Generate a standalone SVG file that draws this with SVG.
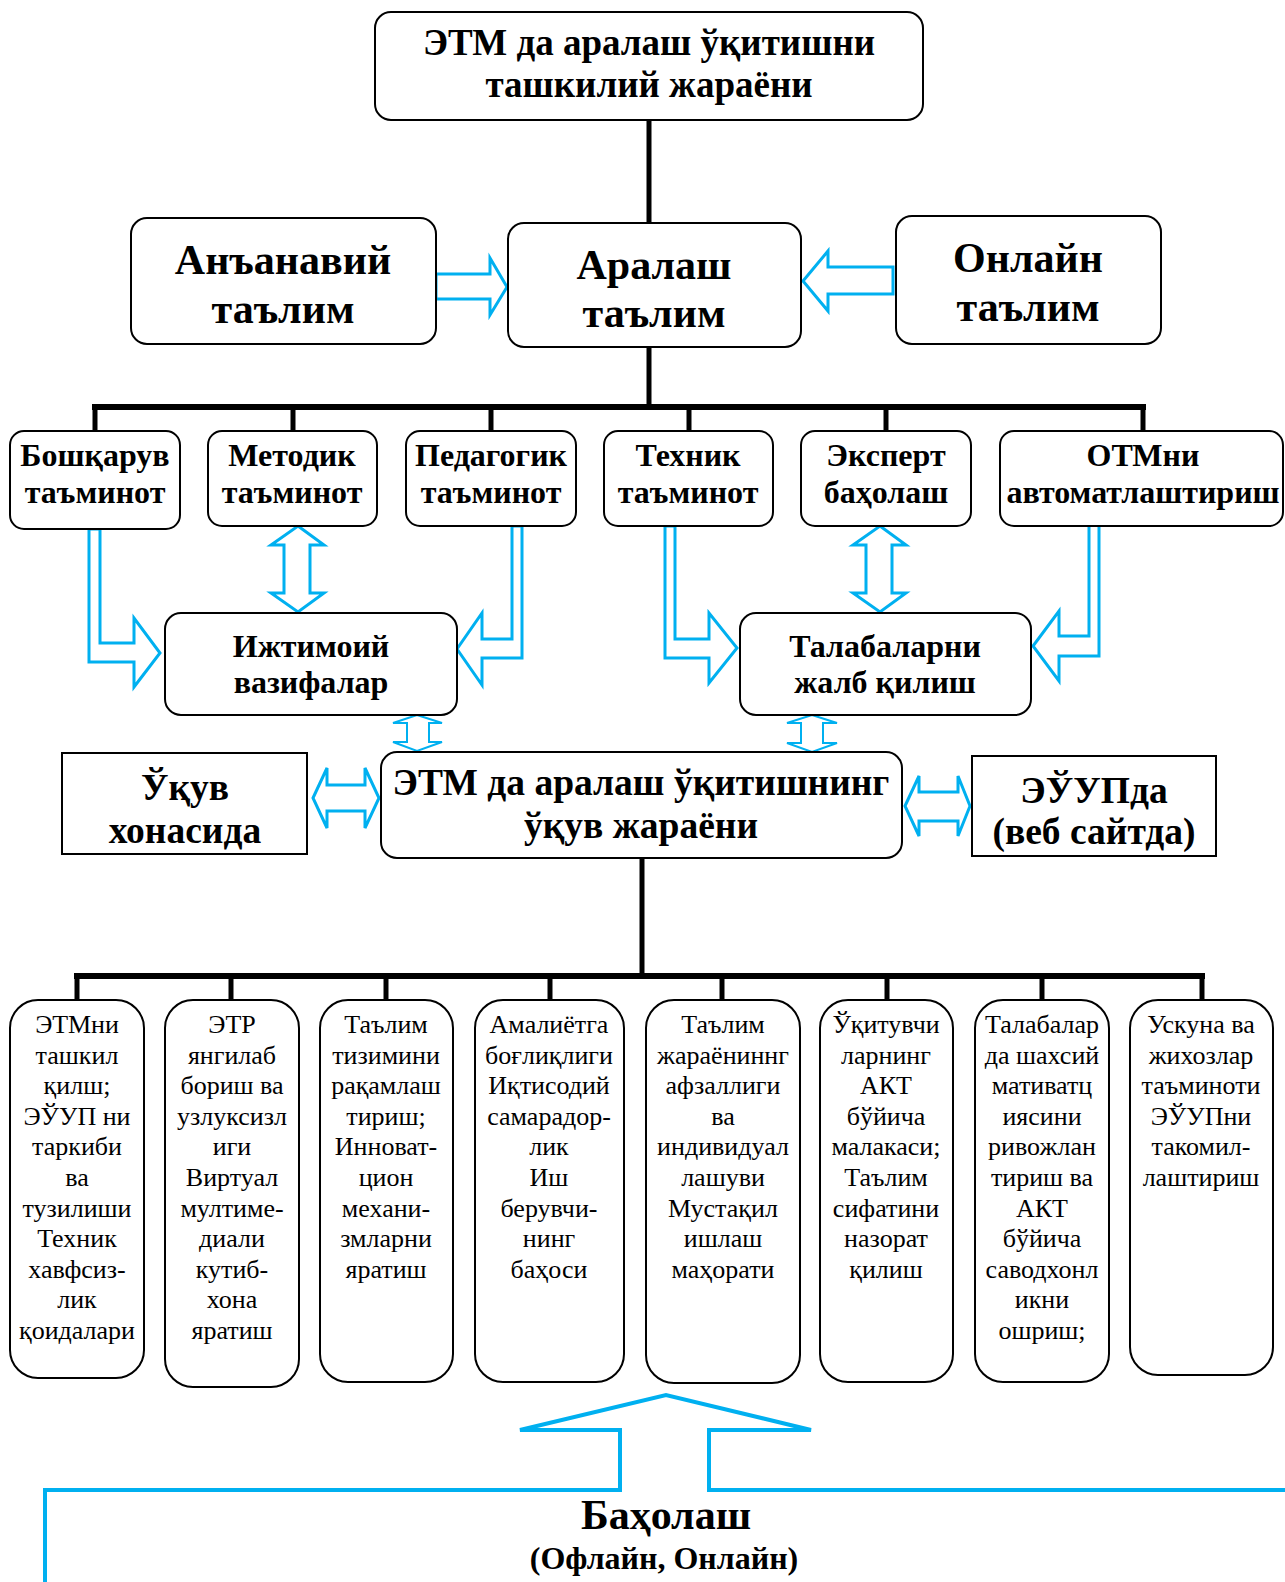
<svg xmlns="http://www.w3.org/2000/svg" width="1285" height="1582" viewBox="0 0 1285 1582">
<style>
.box{fill:#fff;stroke:#000;stroke-width:2}
.ln{stroke:#000;stroke-width:5;fill:none}
.bar{stroke:#000;stroke-width:6;fill:none}
.ar{fill:#fff;stroke:#00B0F0;stroke-width:3;stroke-linejoin:miter}
.ars{fill:#fff;stroke:#00B0F0;stroke-width:2}
text{font-family:"Liberation Serif","Times New Roman",serif;text-anchor:middle;fill:#000}
.b{font-weight:bold}
.t37{font-size:37px}
.t375{font-size:37.5px}
.t42{font-size:42px}
.t32{font-size:32px}
.r26{font-size:26px}
</style>
<rect width="1285" height="1582" fill="#fff"/>
<g id="connectors">
<line class="ln" x1="649" y1="120" x2="649" y2="223"/>
<line class="ln" x1="649" y1="347" x2="649" y2="407"/>
<line class="bar" x1="92" y1="407" x2="1146" y2="407"/>
<line class="ln" x1="95" y1="407" x2="95" y2="431"/>
<line class="ln" x1="293" y1="407" x2="293" y2="431"/>
<line class="ln" x1="491" y1="407" x2="491" y2="431"/>
<line class="ln" x1="689" y1="407" x2="689" y2="431"/>
<line class="ln" x1="886" y1="407" x2="886" y2="431"/>
<line class="ln" x1="1143" y1="407" x2="1143" y2="431"/>
<line class="ln" x1="642" y1="858" x2="642" y2="976"/>
<line class="bar" x1="74" y1="976" x2="1205" y2="976"/>
<line class="ln" x1="77" y1="976" x2="77" y2="1000"/>
<line class="ln" x1="231" y1="976" x2="231" y2="1000"/>
<line class="ln" x1="386" y1="976" x2="386" y2="1000"/>
<line class="ln" x1="550" y1="976" x2="550" y2="1000"/>
<line class="ln" x1="722" y1="976" x2="722" y2="1000"/>
<line class="ln" x1="887" y1="976" x2="887" y2="1000"/>
<line class="ln" x1="1042" y1="976" x2="1042" y2="1000"/>
<line class="ln" x1="1202" y1="976" x2="1202" y2="1000"/>
<polygon class="ar" points="436,274 490,274 490,258 507,287 490,315 490,299 436,299"/>
<polygon class="ar" points="893,267 828,267 828,251 803,281 828,311 828,294 893,294"/>
<polygon class="ar" points="89,529 100,529 100,643 134,643 134,618 160,653 134,687 134,662 89,662"/>
<polygon class="ar" points="512,526 522,526 522,658 482,658 482,685 457,649 482,613 482,639 512,639"/>
<polygon class="ar" points="665,526 675,526 675,639 709,639 709,613 737,648 709,683 709,658 665,658"/>
<polygon class="ar" points="1089,523 1099,523 1099,656 1059,656 1059,681 1033,646 1059,611 1059,636 1089,636"/>
<polygon class="ar" points="298,526 324,545 310,545 310,593 324,593 298,612 271,593 284,593 284,545 271,545"/>
<polygon class="ar" points="880,526 906,545 892,545 892,593 906,593 880,612 853,593 866,593 866,545 853,545"/>
<polygon class="ars" points="417,715 442,723 429,723 429,742 442,742 417,751 393,742 407,742 407,723 393,723"/>
<polygon class="ars" points="812,715 837,723 823,723 823,743 837,743 812,752 787,743 801,743 801,723 787,723"/>
<polygon class="ar" points="313,798 327,768 327,785 365,785 365,768 379,798 365,828 365,811 327,811 327,828"/>
<polygon class="ar" points="905,806 919,776 919,792 958,792 958,776 970,806 958,836 958,821 919,821 919,836"/>
</g>
<g id="n-top"><rect class="box" x="375" y="12" width="548" height="108" rx="16"/>
<text class="b t37" x="649" y="55">ЭТМ да аралаш ўқитишни</text>
<text class="b t37" x="649" y="97">ташкилий жараёни</text></g>
<g id="n-anhanaviy"><rect class="box" x="131" y="218" width="305" height="126" rx="16"/>
<text class="b t42" x="283" y="274">Анъанавий</text>
<text class="b t42" x="283" y="323">таълим</text></g>
<g id="n-aralash"><rect class="box" x="508" y="223" width="293" height="124" rx="16"/>
<text class="b t42" x="654" y="279">Аралаш</text>
<text class="b t42" x="654" y="327">таълим</text></g>
<g id="n-onlayn"><rect class="box" x="896" y="216" width="265" height="128" rx="16"/>
<text class="b t42" x="1028" y="272">Онлайн</text>
<text class="b t42" x="1028" y="321">таълим</text></g>
<g id="n-boshqaruv"><rect class="box" x="10" y="431" width="170" height="98" rx="14"/>
<text class="b t32" x="95" y="466">Бошқарув</text><text class="b t32" x="95" y="503">таъминот</text></g>
<g id="n-metodik"><rect class="box" x="208" y="431" width="169" height="95" rx="14"/>
<text class="b t32" x="292" y="466">Методик</text><text class="b t32" x="292" y="503">таъминот</text></g>
<g id="n-pedagogik"><rect class="box" x="406" y="431" width="170" height="95" rx="14"/>
<text class="b t32" x="491" y="466">Педагогик</text><text class="b t32" x="491" y="503">таъминот</text></g>
<g id="n-texnik"><rect class="box" x="604" y="431" width="169" height="95" rx="14"/>
<text class="b t32" x="688" y="466">Техник</text><text class="b t32" x="688" y="503">таъминот</text></g>
<g id="n-ekspert"><rect class="box" x="801" y="431" width="170" height="95" rx="14"/>
<text class="b t32" x="886" y="466">Эксперт</text><text class="b t32" x="886" y="503">баҳолаш</text></g>
<g id="n-otm"><rect class="box" x="1000" y="431" width="283" height="95" rx="14"/>
<text class="b t32" x="1143" y="466">ОТМни</text><text class="b t32" x="1143" y="503">автоматлаштириш</text></g>
<g id="n-ijtimoiy"><rect class="box" x="165" y="613" width="292" height="102" rx="16"/>
<text class="b t32" x="311" y="657">Ижтимоий</text><text class="b t32" x="311" y="693">вазифалар</text></g>
<g id="n-talabalar"><rect class="box" x="740" y="613" width="291" height="102" rx="16"/>
<text class="b t32" x="885" y="657">Талабаларни</text><text class="b t32" x="885" y="693">жалб қилиш</text></g>
<g id="n-ukuv"><rect class="box" x="62" y="753" width="245" height="101"/>
<text class="b t375" x="185" y="800">Ўқув</text><text class="b t375" x="185" y="843">хонасида</text></g>
<g id="n-process"><rect class="box" x="381" y="752" width="521" height="106" rx="16"/>
<text class="b t375" x="641" y="795">ЭТМ да аралаш ўқитишнинг</text>
<text class="b t375" x="641" y="838">ўқув жараёни</text></g>
<g id="n-euup"><rect class="box" x="972" y="756" width="244" height="100"/>
<text class="b t375" x="1094" y="803">ЭЎУПда</text><text class="b t375" x="1094" y="844">(веб сайтда)</text></g>
<g id="n-b1"><rect class="box" x="10" y="1000" width="134" height="378" rx="28"/>
<text class="r26" x="77"><tspan x="77" y="1033">ЭТМни</tspan><tspan x="77" y="1063.6">ташкил</tspan><tspan x="77" y="1094.2">қилш;</tspan><tspan x="77" y="1124.8">ЭЎУП ни</tspan><tspan x="77" y="1155.4">таркиби</tspan><tspan x="77" y="1186">ва</tspan><tspan x="77" y="1216.6">тузилиши</tspan><tspan x="77" y="1247.2">Техник</tspan><tspan x="77" y="1277.8">хавфсиз-</tspan><tspan x="77" y="1308.4">лик</tspan><tspan x="77" y="1339">қоидалари</tspan></text></g>
<g id="n-b2"><rect class="box" x="165" y="1000" width="134" height="387" rx="28"/>
<text class="r26" x="232"><tspan x="232" y="1033">ЭТР</tspan><tspan x="232" y="1063.6">янгилаб</tspan><tspan x="232" y="1094.2">бориш ва</tspan><tspan x="232" y="1124.8">узлуксизл</tspan><tspan x="232" y="1155.4">иги</tspan><tspan x="232" y="1186">Виртуал</tspan><tspan x="232" y="1216.6">мултиме-</tspan><tspan x="232" y="1247.2">диали</tspan><tspan x="232" y="1277.8">кутиб-</tspan><tspan x="232" y="1308.4">хона</tspan><tspan x="232" y="1339">яратиш</tspan></text></g>
<g id="n-b3"><rect class="box" x="320" y="1000" width="133" height="382" rx="28"/>
<text class="r26" x="386"><tspan x="386" y="1033">Таълим</tspan><tspan x="386" y="1063.6">тизимини</tspan><tspan x="386" y="1094.2">рақамлаш</tspan><tspan x="386" y="1124.8">тириш;</tspan><tspan x="386" y="1155.4">Инноват-</tspan><tspan x="386" y="1186">цион</tspan><tspan x="386" y="1216.6">механи-</tspan><tspan x="386" y="1247.2">змларни</tspan><tspan x="386" y="1277.8">яратиш</tspan></text></g>
<g id="n-b4"><rect class="box" x="475" y="1000" width="149" height="382" rx="28"/>
<text class="r26" x="549"><tspan x="549" y="1033">Амалиётга</tspan><tspan x="549" y="1063.6">боғлиқлиги</tspan><tspan x="549" y="1094.2">Иқтисодий</tspan><tspan x="549" y="1124.8">самарадор-</tspan><tspan x="549" y="1155.4">лик</tspan><tspan x="549" y="1186">Иш</tspan><tspan x="549" y="1216.6">берувчи-</tspan><tspan x="549" y="1247.2">нинг</tspan><tspan x="549" y="1277.8">баҳоси</tspan></text></g>
<g id="n-b5"><rect class="box" x="646" y="1000" width="154" height="383" rx="28"/>
<text class="r26" x="723"><tspan x="723" y="1033">Таълим</tspan><tspan x="723" y="1063.6">жараёниннг</tspan><tspan x="723" y="1094.2">афзаллиги</tspan><tspan x="723" y="1124.8">ва</tspan><tspan x="723" y="1155.4">индивидуал</tspan><tspan x="723" y="1186">лашуви</tspan><tspan x="723" y="1216.6">Мустақил</tspan><tspan x="723" y="1247.2">ишлаш</tspan><tspan x="723" y="1277.8">маҳорати</tspan></text></g>
<g id="n-b6"><rect class="box" x="820" y="1000" width="133" height="382" rx="28"/>
<text class="r26" x="886"><tspan x="886" y="1033">Ўқитувчи</tspan><tspan x="886" y="1063.6">ларнинг</tspan><tspan x="886" y="1094.2">АКТ</tspan><tspan x="886" y="1124.8">бўйича</tspan><tspan x="886" y="1155.4">малакаси;</tspan><tspan x="886" y="1186">Таълим</tspan><tspan x="886" y="1216.6">сифатини</tspan><tspan x="886" y="1247.2">назорат</tspan><tspan x="886" y="1277.8">қилиш</tspan></text></g>
<g id="n-b7"><rect class="box" x="975" y="1000" width="134" height="382" rx="28"/>
<text class="r26" x="1042"><tspan x="1042" y="1033">Талабалар</tspan><tspan x="1042" y="1063.6">да шахсий</tspan><tspan x="1042" y="1094.2">мативатц</tspan><tspan x="1042" y="1124.8">иясини</tspan><tspan x="1042" y="1155.4">ривожлан</tspan><tspan x="1042" y="1186">тириш ва</tspan><tspan x="1042" y="1216.6">АКТ</tspan><tspan x="1042" y="1247.2">бўйича</tspan><tspan x="1042" y="1277.8">саводхонл</tspan><tspan x="1042" y="1308.4">икни</tspan><tspan x="1042" y="1339">ошриш;</tspan></text></g>
<g id="n-b8"><rect class="box" x="1130" y="1000" width="143" height="375" rx="28"/>
<text class="r26" x="1201"><tspan x="1201" y="1033">Ускуна ва</tspan><tspan x="1201" y="1063.6">жихозлар</tspan><tspan x="1201" y="1094.2">таъминоти</tspan><tspan x="1201" y="1124.8">ЭЎУПни</tspan><tspan x="1201" y="1155.4">такомил-</tspan><tspan x="1201" y="1186">лаштириш</tspan></text></g>
<g id="n-baholash">
<path d="M45,1590 L45,1490 L620,1490 L620,1430 L520,1430 L666,1395 L811,1430 L709,1430 L709,1490 L1295,1490" fill="none" stroke="#00B0F0" stroke-width="4"/>
<text class="b" style="font-size:42px" x="666" y="1529">Баҳолаш</text>
<text class="b t32" x="664" y="1569">(Офлайн, Онлайн)</text>
</g>
</svg>
